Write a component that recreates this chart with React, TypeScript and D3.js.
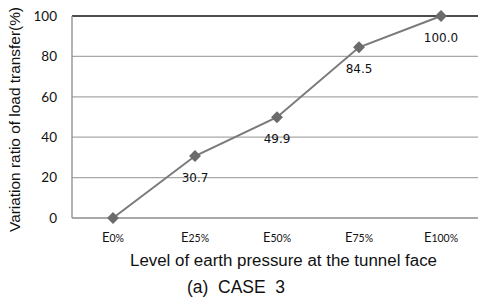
import { useRef, useEffect } from "react"
import * as d3 from "d3"

const levels = ["0%", "25%", "50%", "75%", "100%"]
const ratios = [0, 30.7, 49.9, 84.5, 100.0]
const yTicks = [0, 20, 40, 60, 80, 100]

export default function App() {
  const svgRef = useRef<SVGSVGElement>(null)

  useEffect(() => {
    if (!svgRef.current) return
    const svg = d3.select(svgRef.current)
    svg.selectAll("*").remove()

    const width = 478
    const margin = { top: 16, left: 72, bottom: 218 }

    const x = d3.scaleBand<string>().domain(levels).range([margin.left, 482])
    const y = d3.scaleLinear().domain([0, 100]).range([margin.bottom, margin.top])
    const cx = (d: string) => (x(d) as number) + x.bandwidth() / 2

    // gridlines
    svg.append("g")
      .selectAll("line")
      .data(yTicks)
      .join("line")
      .attr("x1", margin.left)
      .attr("x2", width)
      .attr("y1", (d) => y(d))
      .attr("y2", (d) => y(d))
      .attr("stroke", (d) => (d === 100 ? "#111" : d === 0 ? "#8c8c8c" : "#a8a8a8"))
      .attr("stroke-width", (d) => (d === 100 ? 1.5 : 1.3))

    // left axis line
    svg.append("line")
      .attr("x1", margin.left)
      .attr("x2", margin.left)
      .attr("y1", y(100))
      .attr("y2", y(0))
      .attr("stroke", "#8c8c8c")
      .attr("stroke-width", 1.3)

    // y tick labels
    svg.append("g")
      .selectAll("text")
      .data(yTicks)
      .join("text")
      .attr("x", 57)
      .attr("y", (d) => y(d))
      .attr("dy", "0.35em")
      .attr("text-anchor", "end")
      .attr("font-family", "Lato, sans-serif")
      .attr("font-size", "13.5px")
      .attr("fill", "#111")
      .text((d) => d)

    // x tick labels
    const xt = svg.append("g")
      .selectAll("text")
      .data(levels)
      .join("text")
      .attr("x", (d) => cx(d))
      .attr("y", 242)
      .attr("text-anchor", "middle")
      .attr("font-family", "Lato, sans-serif")
      .attr("fill", "#111")
    xt.append("tspan").attr("font-size", "13px").text("E")
    xt.append("tspan").attr("font-size", "10.5px").text((d) => d)

    // line
    const line = d3.line<number>()
      .x((_, i) => cx(levels[i]))
      .y((d) => y(d))
    svg.append("path")
      .datum(ratios)
      .attr("d", line)
      .attr("fill", "none")
      .attr("stroke", "#7a7a7a")
      .attr("stroke-width", 2)

    // markers
    const diamond = d3.symbol().type(d3.symbolDiamond2).size(90)
    svg.append("g")
      .selectAll("path")
      .data(ratios)
      .join("path")
      .attr("d", diamond)
      .attr("transform", (d, i) => `translate(${cx(levels[i])},${y(d)})`)
      .attr("fill", "#6b6b6b")

    // data labels
    svg.append("g")
      .selectAll("text")
      .data(ratios.slice(1))
      .join("text")
      .attr("x", (d, i) => cx(levels[i + 1]))
      .attr("y", (d) => y(d) + 26)
      .attr("text-anchor", "middle")
      .attr("font-family", "DejaVu Sans, sans-serif")
      .attr("font-size", "12px")
      .attr("fill", "#111")
      .text((d) => d.toFixed(1))

    // axis titles
    svg.append("text")
      .attr("transform", `translate(20,119.5) rotate(-90)`)
      .attr("text-anchor", "middle")
      .attr("font-family", "Liberation Sans, Arial, sans-serif")
      .attr("font-size", "15px")
      .attr("textLength", 225)
      .attr("lengthAdjust", "spacingAndGlyphs")
      .attr("fill", "#111")
      .text("Variation ratio of load transfer(%)")

    svg.append("text")
      .attr("x", 283.5)
      .attr("y", 266)
      .attr("text-anchor", "middle")
      .attr("font-family", "Liberation Sans, Arial, sans-serif")
      .attr("font-size", "16px")
      .attr("textLength", 307)
      .attr("lengthAdjust", "spacingAndGlyphs")
      .attr("fill", "#111")
      .text("Level of earth pressure at the tunnel face")

    svg.append("text")
      .attr("x", 236)
      .attr("y", 293)
      .attr("text-anchor", "middle")
      .attr("font-family", "Liberation Sans, Arial, sans-serif")
      .attr("font-size", "17.5px")
      .attr("fill", "#111")
      .style("white-space", "pre")
      .text("(a)  CASE  3")
  }, [])

  return (
    <svg
      ref={svgRef}
      width={478}
      height={306}
      style={{ position: "absolute", left: 0, top: 0, background: "#fff" }}
    />
  )
}
